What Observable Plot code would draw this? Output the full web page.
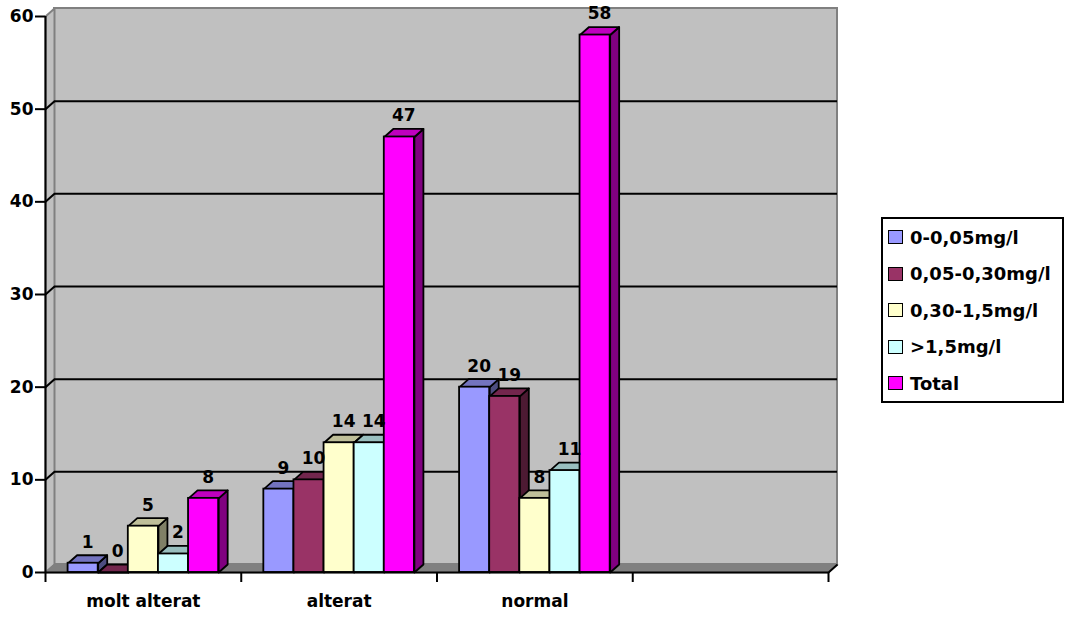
<!DOCTYPE html>
<html>
<head>
<meta charset="utf-8">
<script src="https://cdn.jsdelivr.net/npm/d3@7"></script>
<script src="https://cdn.jsdelivr.net/npm/@observablehq/plot@0.6"></script>
<style>
  html, body { margin: 0; padding: 0; background: #fff; }
  #wrap { position: relative; width: 1066px; height: 617px; font-family: "DejaVu Sans", sans-serif; font-weight: bold; }
  #legend { position: absolute; left: 881px; top: 217px; width: 179px; height: 182px; border: 2px solid #000; background: #fff; }
  .item { position: absolute; left: 0; height: 36px; display: flex; align-items: center; font-size: 18px; color: #000; white-space: nowrap; }
  .sw { width: 13px; height: 12px; border: 1.5px solid #000; margin-left: 5px; margin-right: 7px; }
</style>
</head>
<body>
<div id="wrap">
  <div id="chart"></div>
  <div id="legend"></div>
</div>
<script>
// Categories on the x axis (the fourth slot stays empty)
const categories = ["molt alterat", "alterat", "normal"];
const slotCount = 4;

// Series (concentration ranges) and their values per category
const seriesNames = ["0-0,05mg/l", "0,05-0,30mg/l", "0,30-1,5mg/l", ">1,5mg/l", "Total"];
const range1 = [1, 9, 20];     // 0-0,05mg/l
const range2 = [0, 10, 19];    // 0,05-0,30mg/l
const range3 = [5, 14, 8];     // 0,30-1,5mg/l
const range4 = [2, 14, 11];    // >1,5mg/l
const totals = [8, 47, 58];    // Total
const seriesColors = ["#9999FF", "#993366", "#FFFFCC", "#CCFFFF", "#FF00FF"];

// Value axis ticks
const yTicks = [0, 10, 20, 30, 40, 50, 60];
const gridLevels = [10, 20, 30, 40, 50];

const seriesValues = [range1, range2, range3, range4, totals];

// Layout
const W = 1066, H = 617;
const mLeft = 45, mRight = 238, mTop = 16, mBottom = 45;
const pxPerX = (W - mLeft - mRight) / slotCount;
const pxPerY = (H - mTop - mBottom) / 60;
// depth of the 3‑D effect, in pixels, converted to data units
const depthX = 9 / pxPerX;
const depthY = 8 / pxPerY;

// bar geometry inside each category slot (gap width 150%)
const barW = 1 / (5 + 1.5);
const groupOffset = (1 - 5 * barW) / 2;

const rows = [];
categories.forEach((cat, ci) => {
  seriesNames.forEach((s, si) => {
    const x0 = ci + groupOffset + si * barW;
    rows.push({key: ci + "-" + si, cat, series: s, value: seriesValues[si][ci],
               x0, x1: x0 + barW, color: seriesColors[si]});
  });
});

function shade(c, k) {
  const col = d3.rgb(c);
  return d3.rgb(col.r * k, col.g * k, col.b * k).formatHex();
}

function poly(id, pts, fill) {
  return [...pts, pts[0]].map(([x, y]) => ({id, x, y, fill}));
}

const sides = [], tops = [];
rows.forEach(r => {
  sides.push(...poly(r.key + "s",
    [[r.x1, 0], [r.x1 + depthX, depthY], [r.x1 + depthX, r.value + depthY], [r.x1, r.value]],
    shade(r.color, 0.5)));
  tops.push(...poly(r.key + "t",
    [[r.x0, r.value], [r.x1, r.value], [r.x1 + depthX, r.value + depthY], [r.x0 + depthX, r.value + depthY]],
    shade(r.color, 0.75)));
});

const leftWall = poly("lw", [[0, 0], [depthX, depthY], [depthX, 60 + depthY], [0, 60]], "#C0C0C0");
const floor = poly("fl", [[0, 0], [slotCount, 0], [slotCount + depthX, depthY], [depthX, depthY]], "#808080");
const backWall = [{x1: depthX, x2: slotCount + depthX, y1: depthY, y2: 60 + depthY}];

const tickLen = 10 / pxPerY;

const chart = Plot.plot({
  width: W,
  height: H,
  marginLeft: mLeft,
  marginRight: mRight,
  marginTop: mTop,
  marginBottom: mBottom,
  x: {type: "linear", domain: [0, slotCount], axis: null},
  y: {type: "linear", domain: [0, 60]},
  color: {type: "identity"},
  style: {fontFamily: "'DejaVu Sans', sans-serif", fontSize: "17px", fontWeight: "bold", color: "#000", background: "#fff", overflow: "visible"},
  marks: [
    // walls and floor
    Plot.rect(backWall, {x1: "x1", x2: "x2", y1: "y1", y2: "y2", fill: "#C0C0C0", stroke: "#808080", strokeWidth: 2}),
    Plot.line(leftWall, {x: "x", y: "y", z: "id", fill: "fill", stroke: "#808080", strokeWidth: 2}),
    Plot.line(floor, {x: "x", y: "y", z: "id", fill: "fill", stroke: "#808080", strokeWidth: 1.5}),
    // gridlines on the back wall and their diagonal connectors
    Plot.ruleY(gridLevels, {y: d => d + depthY, x1: depthX, x2: slotCount + depthX, stroke: "#000", strokeWidth: 2}),
    Plot.link(gridLevels, {x1: 0, y1: d => d, x2: depthX, y2: d => d + depthY, stroke: "#000", strokeWidth: 2}),
    // 3‑D bars: side faces, top faces, front faces
    Plot.line(sides, {x: "x", y: "y", z: "id", fill: "fill", stroke: "#000", strokeWidth: 1.8, strokeLinejoin: "round"}),
    Plot.line(tops, {x: "x", y: "y", z: "id", fill: "fill", stroke: "#000", strokeWidth: 1.8, strokeLinejoin: "round"}),
    Plot.rect(rows, {x1: "x0", x2: "x1", y1: () => 0, y2: "value", fill: "color", stroke: "#000", strokeWidth: 1.8}),
    // value labels
    Plot.text(rows, {x: d => (d.x0 + d.x1) / 2 + depthX / 2, y: "value", dy: -21, text: d => String(d.value), fill: "#000"}),
    // axes
    Plot.ruleX([0], {y1: 0, y2: 60, stroke: "#000", strokeWidth: 2}),
    Plot.ruleY([0], {x1: 0, x2: slotCount, stroke: "#000", strokeWidth: 2}),
    Plot.link([0], {x1: slotCount, y1: 0, x2: slotCount + depthX, y2: depthY, stroke: "#000", strokeWidth: 2}),
    Plot.ruleX(d3.range(slotCount + 1), {y1: 0, y2: -tickLen, stroke: "#000", strokeWidth: 2}),
    Plot.axisY({ticks: yTicks, tickSize: 10, tickPadding: 2, strokeWidth: 2, label: null}),
    Plot.text(categories, {x: (d, i) => i + 0.5, y: () => 0, dy: 29, text: d => d, fill: "#000"})
  ]
});

document.getElementById("chart").appendChild(chart);

// legend
const legend = document.getElementById("legend");
seriesNames.forEach((name, i) => {
  const item = document.createElement("div");
  item.className = "item";
  item.style.top = (i * 36.6) + "px";
  const sw = document.createElement("div");
  sw.className = "sw";
  sw.style.background = seriesColors[i];
  const label = document.createElement("span");
  label.textContent = name;
  item.appendChild(sw);
  item.appendChild(label);
  legend.appendChild(item);
});
</script>
</body>
</html>
